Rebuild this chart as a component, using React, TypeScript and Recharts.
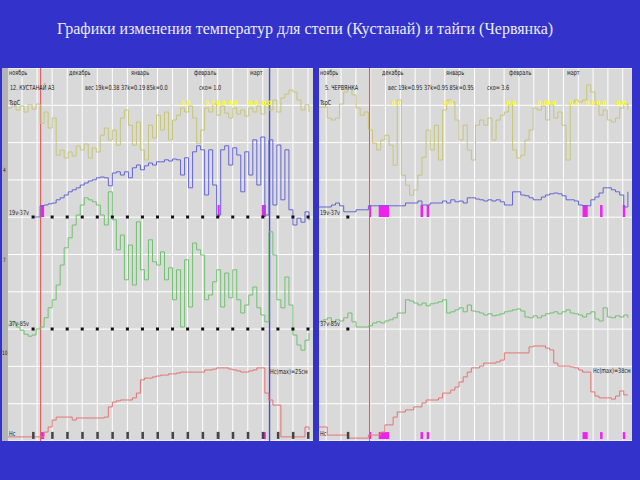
import {
  ComposedChart,
  Line,
  Scatter,
  XAxis,
  YAxis,
  CartesianGrid,
  ReferenceArea,
} from "recharts";

// days since 1 November, one reading every second day
const DAYS = [
  0, 2, 4, 6, 8, 10, 12, 14, 16, 18, 20, 22, 24, 26, 28, 30, 32, 34, 36, 38,
  40, 42, 44, 46, 48, 50, 52, 54, 56, 58, 60, 62, 64, 66, 68, 70, 72, 74, 76,
  78, 80, 82, 84, 86, 88, 90, 92, 94, 96, 98, 100, 102, 104, 106, 108, 110,
  112, 114, 116, 118, 120, 122, 124, 126, 128, 130, 132, 134, 136, 138, 140,
  142, 144, 146, 148, 150,
];

const MONTHS = ["ноябрь", "декабрь", "январь", "февраль", "март"];
const MONTH_DAYS = [0, 30, 61, 92, 120];
const GRID_ROWS = [0, 1, 2, 3, 4, 5, 6, 7, 8, 9, 10];
const SERIES_LABELS = ["TspC", "19v-37v", "37v-85v", "Hc"];

// Кустанай
const KUS_TEMP = [
  -0.5, 0.5, -1, 0, -1.5, 0.3, -0.8, 0.5, -4.3, -1.5,
  -5.5, -3, -12.3, -11, -13, -11.5, -12.5, -10, -11, -9.5,
  -13, -10.5, -11.5, -7.3, -5.5, -8.5, -6, -9.8, -3, -1,
  -4.8, -9.8, -4, -11, -13.5, -4.8, -8, -2.3, -6, -1.5,
  -8.5, -3.5, -2.3, -0.5, -1.5, 0, -3, -9.3, -6, -0.5,
  -1.5, 0.5, -2.3, 0, -1.8, -3, -0.5, -2, -1, -2.5,
  -0.5, -1.5, 0, -2, 0.5, -1, 1.5, -1.5, 2, 3,
  4, 3.5, 1.5, -1, 0.3, -1.5,
];
const KUS_D19_37 = [
  null, null, null, null, null, null, 0, 0, 2.8, 3,
  3.3, 3.5, 4.3, 4.8, 5.5, 6.3, 6.8, 7.3, 8, 8.5,
  9, 9.3, 9.8, 10, 9.8, 7.8, 11, 11.3, 10.5, 11.3,
  9.8, 12.3, 13, 11.8, 12.8, 13.5, 13, 13.8, 13.8, 14.3,
  14, 14.5, 14.3, 10.5, 14.8, 7.3, 16.3, 17.8, 16.8, 5.5,
  16.8, 8, 0.5, 16.8, 17.8, 13, 17.3, 15.5, 6.3, 16.3,
  10.5, 19.3, 8, 20, 0.5, 19.3, 3, 18, 4.3, 16.8,
  1.8, -2, -0.3, -1.3, 1.3, -0.8,
];
const KUS_D37_85 = [
  1, 1.8, 0.5, -0.3, -1.3, -1.8, -1.5, 0, 0.5, 2.8,
  5.3, 7.3, 11, 16, 20.3, 22.8, 26, 28.5, 31, 32.8,
  32.3, 31.8, 31, 28.5, 26, 34.3, 27.3, 19.8, 23.5, 12.3,
  21, 11, 26.8, 14.8, 12.3, 22.3, 16.8, 16, 19.3, 12.3,
  15.3, 7.3, 14.8, 0.5, 17.3, 5.5, 21.5, 19.8, 18.5, 7.3,
  8.5, 11.8, 14.8, 5.5, 14, 7.8, 14.8, 7.3, 4, 6,
  8.5, 10.5, 5.3, 3.5, 1.8, 24.3, 18.5, 7.3, 5.3, 13,
  6, -1.5, -4, -5.3, -2.8, -1,
];
const KUS_SNOW = [
  0.7, 0.7, 0.7, 0.7, 0.7, 0.7, 0.7, 0.7, 0.7, 2.3,
  4, 6.3, 7.3, 7.3, 7.3, 7.3, 6.3, 7, 7, 7,
  7, 7, 7, 7, 7.3, 10.7, 12.3, 12.7, 13, 13,
  13, 13.7, 15.3, 19.7, 20.3, 20.3, 20.7, 21, 21.3, 21.3,
  21.7, 21.7, 22, 22.3, 22.3, 22.3, 22.3, 22.3, 22.3, 23,
  23, 23.3, 23.7, 23.7, 23.7, 23.3, 23, 22.7, 22.3, 22.3,
  22.7, 23, 23.7, 23.7, 15.3, 13, 11.3, 11.3, 0.7, 0.7,
  0.7, 0.7, 0.7, 0.7, 4, 3,
];
const KUS_GRID = [
  7, 14.5, 22, 29.5, 37, 44.5, 52, 59.5, 67, 74.5, 82, 89.5, 97, 104.5, 112,
  119.5, 127, 134.5, 142, 149.5,
];
const KUS_MARKS = [
  12.5, 22, 29.5, 37, 44.5, 52, 59.5, 67, 74.5, 82, 89.5, 97, 104.5, 112,
  119.5, 127, 134.5, 142, 149.5,
];
const KUS_FLAGS = [
  [16.3, 18],
  [104.5, 105.5],
  [126.5, 128.5],
];
const KUS_YELLOW = [88.5, 100.5, 106, 112, 122, 129];

// Червянка
const CHV_TEMP = [
  -0.3, -0.3, -3, -3.5, -3, 0.5, 3.5, 4.5, 2.8, -0.5,
  -2.3, -1.5, -6, -9.3, -11, -8.5, -7.3, -9.8, -14.8, 1.5,
  -17.3, -19.8, -22.3, -21, -17.3, -12.8, -6, -11, -4.8, -13.5,
  -1, 1.5, 1, -3.5, -8.5, -4.8, -11, -13.5, -4.8, -3.5,
  -4.8, -3, -8.5, -3.5, -2.3, -1.5, 0.3, -11, -13, -12.3,
  -8.5, -6, -0.5, -1, 0, -3.5, 0.3, -3, -1.5, -4.8,
  -13.5, 0.8, 1.5, 1, 1.5, 5.3, 3.5, 0.3, -2.3, -1,
  -3.5, -4, -3, -0.5, 0.5, -1,
];
const CHV_D19_37 = [
  2.5, 2.5, 2.5, 3, 3.5, 2.8, 1.3, 1.3, 1.3, 1.8,
  1.8, 1.8, 2.8, 2.8, 2.8, 2.8, 2.8, 2.8, 2.8, 2.8,
  2.8, 3.5, 3.5, 3.5, 4, 3, 3, 3.5, 3.5, 3.5,
  4, 3.5, 4.3, 3.8, 4, 3.5, 4.8, 4.8, 4.5, 4.3,
  4, 4.3, 4, 4.3, 3.8, 3, 3, 6.3, 6.3, 5.5,
  5.3, 4.8, 4.3, 4.3, 5, 5.5, 5.8, 6, 5.8, 5.3,
  4.3, 4.3, 4, 3, 2.8, 2.8, 4.3, 5, 6, 7.3,
  7.3, 6.8, 6.3, 5.5, 2.5, 6.3,
];
const CHV_D37_85 = [
  1.8, 2.3, 2.8, 1.8, 2.3, 2, 2.8, 4, 1.8, 0.5,
  0.5, 0.5, 0.8, 1.5, 1.8, 1.5, 2, 2.3, 2.8, 4,
  4, 7.3, 7, 6.5, 6, 6.5, 5.8, 6.3, 6.5, 6.8,
  7.3, 4, 4.3, 4.8, 5.3, 4.3, 6, 4.5, 4.3, 4,
  3.5, 3.8, 3.3, 3.5, 3.8, 4.3, 4.5, 4.8, 5, 4.5,
  3, 2.8, 3.3, 2.8, 3.3, 3.8, 4, 4.3, 3.8, 4.3,
  4.8, 4, 3.8, 3.5, 3, 3.8, 4.3, 2.5, 2, 5.3,
  3, 2.8, 3.3, 3, 3.5, 2.8,
];
const CHV_SNOW = [
  4, 4, 1.3, 1.3, 1.3, 1.3, 1.3, 0.3, 0.3, 0.3,
  0.3, 0.3, 1.3, 1.3, 1.3, 2.3, 4.7, 4.7, 7.3, 9,
  9, 9.7, 9.7, 10.7, 10.7, 12, 13, 13, 13, 13.7,
  15.3, 15.3, 16.3, 17.3, 19, 20.7, 22.3, 23.7, 23.7, 24.3,
  25.3, 25.3, 25.3, 25.7, 26.3, 28.7, 28.7, 28.7, 28.7, 28.7,
  28.7, 30.7, 31, 31, 31, 30.3, 29.7, 25.3, 24.3, 24.3,
  24.3, 24, 23.7, 23, 22.3, 22.3, 15.7, 14.3, 13.7, 13.7,
  13.7, 13.3, 14.3, 16, 14.7, 14.7,
];
const CHV_GRID = [
  3.5, 10.7, 17.9, 25.1, 32.3, 39.5, 46.7, 53.9, 61.1, 68.3, 75.5, 82.7, 89.9,
  97.1, 104.3, 111.5, 118.7, 125.9, 133.1, 140.3, 147.5,
];
const CHV_MARKS = [14];
const CHV_FLAGS = [
  [24.4, 25.4],
  [29, 34],
  [49.3, 50.5],
  [52.3, 53.5],
  [128, 130.5],
  [136.5, 137.7],
  [147.5, 148.7],
];
const CHV_YELLOW = [37.4, 62.6, 93.2, 108.3, 112.6, 123.8, 131.6, 137, 146.6];

const FONT = "'Liberation Sans Narrow', 'DejaVu Sans Condensed', sans-serif";
const PLOT_H = 373;
const DOMAIN_DAYS = 152;
// top edge of each series label, inside the panel
const LABEL_TOPS = [31, 141, 252, 362];

interface PanelProps {
  width: number;
  temp: number[];
  d1937: (number | null)[];
  d3785: number[];
  snow: number[];
  grid: number[];
  marks: number[];
  flags: number[][];
  yellow: number[];
  redDay: number;
  blueDay?: number;
}

const rows = (vals: (number | null)[]) =>
  DAYS.map((day, i) => ({ day, v: vals[i] }));
const points = (days: number[], v: number) => days.map((day) => ({ day, v }));

const Panel = ({
  width,
  temp,
  d1937,
  d3785,
  snow,
  grid,
  marks,
  flags,
  yellow,
  redDay,
  blueDay,
}: PanelProps) => (
  <ComposedChart
    width={width}
    height={PLOT_H}
    margin={{ top: 0, right: 0, bottom: 0, left: 0 }}
  >
    <XAxis
      xAxisId="x"
      dataKey="day"
      type="number"
      domain={[0, DOMAIN_DAYS]}
      allowDataOverflow
      hide
    />
    <YAxis yAxisId="grid" domain={[0, 10]} hide />
    <YAxis yAxisId="t" domain={[-83.75, 9.5]} hide />
    <YAxis yAxisId="a" domain={[-56, 37.25]} hide />
    <YAxis yAxisId="b" domain={[-28, 65.25]} hide />
    <YAxis yAxisId="s" domain={[-0.67, 123.67]} hide />

    {/* white grid: weekly verticals, ten equal rows */}
    <CartesianGrid
      xAxisId="x"
      yAxisId="grid"
      stroke="#ffffff"
      verticalPoints={grid.map((d) => (d * width) / DOMAIN_DAYS)}
      horizontalPoints={GRID_ROWS.map((r) => (r * PLOT_H) / 10)}
    />

    {flags.map(([x1, x2], i) => (
      <ReferenceArea
        key={`fa${i}`}
        xAxisId="x"
        yAxisId="a"
        x1={x1}
        x2={x2}
        y1={0}
        y2={3}
        fill="#f020f0"
        fillOpacity={1}
        stroke="none"
      />
    ))}
    {flags.map(([x1, x2], i) => (
      <ReferenceArea
        key={`fs${i}`}
        xAxisId="x"
        yAxisId="s"
        x1={x1}
        x2={x2}
        y1={0}
        y2={2.3}
        fill="#f020f0"
        fillOpacity={1}
        stroke="none"
      />
    ))}

    {/* start of snow cover / end of season: full-height strips */}
    <ReferenceArea
      xAxisId="x"
      yAxisId="s"
      x1={redDay}
      x2={redDay + 0.55}
      fill="#e05656"
      fillOpacity={1}
      stroke="none"
      ifOverflow="visible"
    />
    {blueDay !== undefined && (
      <ReferenceArea
        xAxisId="x"
        yAxisId="s"
        x1={blueDay}
        x2={blueDay + 0.7}
        fill="#4a4ad8"
        fillOpacity={1}
        stroke="none"
        ifOverflow="visible"
      />
    )}

    <Line
      data={rows(temp)}
      xAxisId="x"
      yAxisId="t"
      dataKey="v"
      type="stepAfter"
      stroke="#c6c67c"
      strokeWidth={1}
      dot={false}
      isAnimationActive={false}
    />
    <Line
      data={rows(d1937)}
      xAxisId="x"
      yAxisId="a"
      dataKey="v"
      type="stepAfter"
      stroke="#6464d2"
      strokeWidth={1}
      dot={false}
      isAnimationActive={false}
    />
    <Line
      data={rows(d3785)}
      xAxisId="x"
      yAxisId="b"
      dataKey="v"
      type="stepAfter"
      stroke="#72bf72"
      strokeWidth={1}
      dot={false}
      isAnimationActive={false}
    />
    <Line
      data={rows(snow)}
      xAxisId="x"
      yAxisId="s"
      dataKey="v"
      type="stepAfter"
      stroke="#e47474"
      strokeWidth={1}
      dot={false}
      isAnimationActive={false}
    />

    <Scatter
      data={points(marks, 0)}
      xAxisId="x"
      yAxisId="a"
      dataKey="v"
      isAnimationActive={false}
      shape={(p: any) => (
        <rect x={p.cx - 1.5} y={p.cy - 1.5} width={3} height={3} fill="#111" />
      )}
    />
    <Scatter
      data={points(marks, 0)}
      xAxisId="x"
      yAxisId="b"
      dataKey="v"
      isAnimationActive={false}
      shape={(p: any) => (
        <rect x={p.cx - 1.5} y={p.cy - 1.5} width={3} height={3} fill="#111" />
      )}
    />
    <Scatter
      data={points(marks, 1.2)}
      xAxisId="x"
      yAxisId="s"
      dataKey="v"
      isAnimationActive={false}
      shape={(p: any) => (
        <rect x={p.cx - 1} y={p.cy - 3.5} width={2.5} height={7} fill="#444" />
      )}
    />
    <Scatter
      data={points(yellow, 0.8)}
      xAxisId="x"
      yAxisId="t"
      dataKey="v"
      isAnimationActive={false}
      shape={(p: any) => (
        <text
          x={p.cx}
          y={p.cy + 2}
          fontSize={6}
          fontWeight="bold"
          fontFamily={FONT}
          fill="#ffff00"
          textAnchor="middle"
        >
          0.0
        </text>
      )}
    />
  </ComposedChart>
);

const small: React.CSSProperties = {
  position: "absolute",
  fontFamily: FONT,
  fontSize: 7,
  color: "#222",
  whiteSpace: "nowrap",
  lineHeight: "8px",
  transform: "scaleX(0.78)",
  transformOrigin: "0 0",
};

// month names and series names laid over one panel
const PanelText = ({ left, width }: { left: number; width: number }) => (
  <>
    {MONTHS.map((m, i) => (
      <div
        key={m}
        style={{
          ...small,
          left: left + 1 + (MONTH_DAYS[i] * width) / DOMAIN_DAYS,
          top: 1,
        }}
      >
        {m}
      </div>
    ))}
    {SERIES_LABELS.map((s, i) => (
      <div key={s} style={{ ...small, left: left + 1, top: LABEL_TOPS[i] }}>
        {s}
      </div>
    ))}
  </>
);

export default function App() {
  return (
    <div
      style={{
        position: "absolute",
        left: 0,
        top: 0,
        width: 640,
        height: 480,
        background: "#3333cc",
        overflow: "hidden",
      }}
    >
      <div
        style={{
          position: "absolute",
          left: 57,
          top: 20,
          fontFamily: "'Liberation Serif', 'Times New Roman', serif",
          fontSize: 16,
          color: "#ececf6",
          whiteSpace: "nowrap",
        }}
      >
        Графики изменения температур для степи (Кустанай) и тайги (Червянка)
      </div>

      {/* Кустанай */}
      <div
        style={{
          position: "absolute",
          left: 2,
          top: 68,
          width: 311,
          height: PLOT_H,
          background: "#d9d9d9",
        }}
      >
        <div
          style={{
            position: "absolute",
            left: 0,
            top: 0,
            width: 6,
            height: PLOT_H,
            background: "#b4b4b4",
          }}
        />
        <div style={{ ...small, left: 1, top: 98, fontSize: 6 }}>4</div>
        <div style={{ ...small, left: 1, top: 188, fontSize: 6 }}>7</div>
        <div style={{ ...small, left: 0, top: 281, fontSize: 6 }}>10</div>
        <div style={{ position: "absolute", left: 6, top: 0 }}>
          <Panel
            width={305}
            temp={KUS_TEMP}
            d1937={KUS_D19_37}
            d3785={KUS_D37_85}
            snow={KUS_SNOW}
            grid={KUS_GRID}
            marks={KUS_MARKS}
            flags={KUS_FLAGS}
            yellow={KUS_YELLOW}
            redDay={16}
            blueDay={130}
          />
        </div>
        <PanelText left={6} width={305} />
        <div style={{ ...small, left: 8, top: 16 }}>12. КУСТАНАЙ АЗ</div>
        <div style={{ ...small, left: 83, top: 16 }}>
          вес 19k=0.38 37k=0.19 85k=0.0
        </div>
        <div style={{ ...small, left: 197, top: 16 }}>ско= 1.0</div>
        <div style={{ ...small, left: 268, top: 300 }}>Hc(max)=25см</div>
      </div>

      {/* Червянка */}
      <div
        style={{
          position: "absolute",
          left: 319,
          top: 68,
          width: 313,
          height: PLOT_H,
          background: "#d9d9d9",
        }}
      >
        <div style={{ position: "absolute", left: 0, top: 0 }}>
          <Panel
            width={313}
            temp={CHV_TEMP}
            d1937={CHV_D19_37}
            d3785={CHV_D37_85}
            snow={CHV_SNOW}
            grid={CHV_GRID}
            marks={CHV_MARKS}
            flags={CHV_FLAGS}
            yellow={CHV_YELLOW}
            redDay={24.3}
          />
        </div>
        <PanelText left={0} width={313} />
        <div style={{ ...small, left: 6, top: 16 }}>5. ЧЕРВЯНКА</div>
        <div style={{ ...small, left: 69, top: 16 }}>
          вес 19k=0.95 37k=0.95 85k=0.95
        </div>
        <div style={{ ...small, left: 168, top: 16 }}>ско= 3.6</div>
        <div style={{ ...small, left: 274, top: 299 }}>Hc(max)=38см</div>
      </div>
    </div>
  );
}
